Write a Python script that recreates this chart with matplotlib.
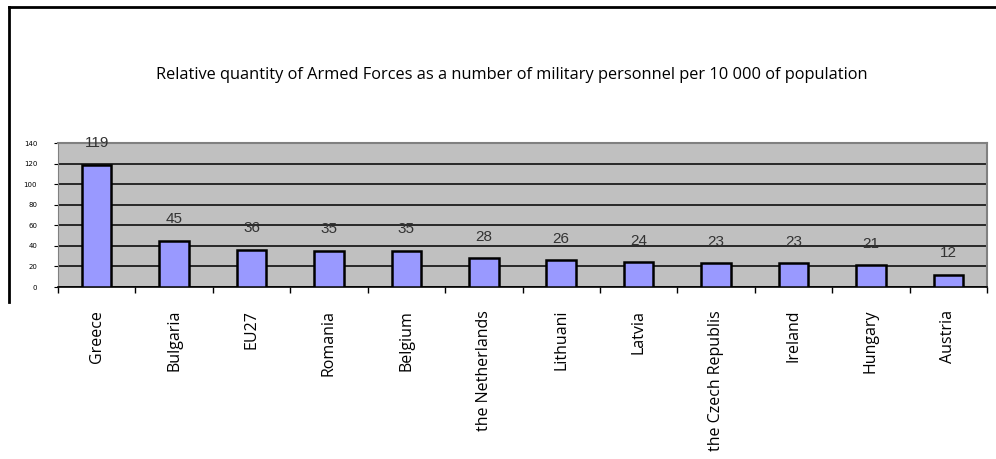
import numpy as np
import matplotlib.pyplot as plt
from matplotlib.lines import Line2D

countries = ['Greece', 'Bulgaria', 'EU27', 'Romania', 'Belgium', 'the Netherlands',
             'Lithuani', 'Latvia', 'the Czech Republis', 'Ireland', 'Hungary', 'Austria']
values = [119, 45, 36, 35, 35, 28, 26, 24, 23, 23, 21, 12]
yticks = [0, 20, 40, 60, 80, 100, 120, 140]

W, H = 996, 459
fig = plt.figure(figsize=(W / 100, H / 100), dpi=100)

# plot area in pixels: x 58..987, y 143..287
ax = fig.add_axes([58 / W, 1 - 287 / H, (987 - 58) / W, (287 - 143) / H])
ax.set_facecolor('#c0c0c0')

x = np.arange(len(countries))
ax.bar(x, values, width=0.38, color='#9999ff', edgecolor='black', linewidth=1.8, zorder=3)
for xi, v in zip(x, values):
    ax.text(xi, v + 21, str(v), ha='center', va='center', fontsize=11,
            color='#333333', family='Liberation Sans', zorder=4, clip_on=False)

ax.set_xlim(-0.5, len(countries) - 0.5)
ax.set_ylim(0, 140)
ax.set_yticks(yticks)
ax.set_yticklabels([str(t) for t in yticks], fontsize=5, family='DejaVu Sans')
ax.yaxis.grid(True, color='black', linewidth=1.1, zorder=1)
ax.set_axisbelow(True)

ax.set_xticks(np.arange(len(countries) + 1) - 0.5, minor=False)
ax.set_xticklabels([])
ax.set_xticks(x, minor=True)
ax.set_xticklabels(countries, minor=True, rotation=90, fontsize=11.5,
                   family='Open Sans', va='top', ha='center')
ax.tick_params(axis='x', which='major', length=4, width=1, direction='out', color='black')
ax.tick_params(axis='x', which='minor', length=0, pad=16.5)
ax.tick_params(axis='y', length=3, width=0.8, pad=12)

for side in ['top', 'right']:
    ax.spines[side].set_color('#808080')
    ax.spines[side].set_linewidth(1.5)
ax.spines['left'].set_color('#808080')
ax.spines['bottom'].set_color('black')
ax.spines['bottom'].set_linewidth(1.2)

fig.text(512 / W, 1 - 75 / H,
         'Relative quantity of Armed Forces as a number of military personnel per 10 000 of population',
         ha='center', va='center', fontsize=11.8, family='Open Sans')

# outer frame lines (top and left)
fig.add_artist(Line2D([9 / W, 1], [1 - 7 / H, 1 - 7 / H], color='black', linewidth=2))
fig.add_artist(Line2D([9 / W, 9 / W], [1 - 7 / H, 1 - 302 / H], color='black', linewidth=2))

fig.savefig('out.png', dpi=100, facecolor='white')
